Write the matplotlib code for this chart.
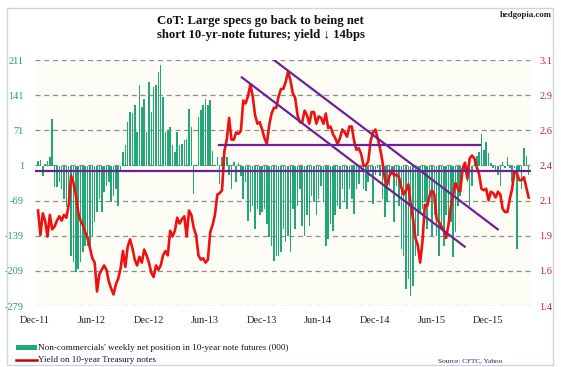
import matplotlib
matplotlib.use("Agg")
import matplotlib.pyplot as plt
from matplotlib.patches import Rectangle
from matplotlib.lines import Line2D
import numpy as np

# ---------------- data (weekly) ----------------
net_positions = [
    9, 12, -20, 3, 10, 18, 93, -42, -42, -32,
    -45, -65, -82, -58, -179, -192, -212, -205, -192, -172,
    -159, -159, -165, -139, -112, -92, -65, -92, -52, -39,
    -32, -72, -59, -45, -79, -12, 28, 41, 88, 108,
    105, 121, 68, 161, 118, 134, 68, 168, 108, 158,
    161, 188, 201, 138, 68, 71, 78, 41, 28, 68,
    41, 44, 51, 54, 114, 78, -56, 2, 98, 111,
    121, 134, 121, 131, 30, 2, 18, -35, 18, 20,
    18, -19, -45, 8, -32, 5, -20, -65, -32, -109,
    -92, -79, -125, -85, -98, -92, -85, -115, -142, -159,
    -189, -179, -179, -172, -125, -152, -139, -172, -85, -125,
    -79, -45, -119, -139, -98, -119, -59, -72, -98, -65,
    -39, -72, -159, -145, -115, -129, -98, -79, -85, -45,
    -69, -85, -45, -65, -95, -45, -35, -5, -45, -49,
    -32, -10, -75, -19, -5, -20, -65, -102, -72, -39,
    -19, -112, -39, -79, -165, -179, -245, -225, -259, -239,
    -179, -140, -92, -85, -72, -125, -59, -139, -98, -139,
    -179, -125, -159, -98, -125, -112, -182, -132, -79, -59,
    -5, -12, -32, -79, -39, 10, 20, 28, 64, 31,
    48, 25, 5, -5, -10, -19, -39, 8, -5, 18,
    -5, -32, -5, -165, -10, -45, 35, 20, -19,
]

yield_10y = [
    2.06, 1.89, 2.04, 1.99, 1.88, 2.03, 1.93, 1.95, 1.99, 2.02,
    1.99, 2.03, 2.01, 2.10, 2.30, 2.25, 2.17, 2.05, 1.99, 1.96,
    1.91, 1.87, 1.80, 1.73, 1.70, 1.50, 1.62, 1.65, 1.68, 1.65,
    1.57, 1.52, 1.48, 1.55, 1.59, 1.66, 1.78, 1.67, 1.81, 1.86,
    1.80, 1.72, 1.68, 1.74, 1.70, 1.79, 1.75, 1.70, 1.63, 1.60,
    1.68, 1.65, 1.68, 1.75, 1.78, 1.75, 1.92, 1.88, 1.92, 2.01,
    1.97, 2.00, 2.02, 1.88, 2.06, 2.03, 1.94, 1.89, 1.75, 1.72,
    1.73, 1.70, 1.72, 1.91, 1.96, 2.03, 2.17, 2.18, 2.20, 2.47,
    2.55, 2.70, 2.55, 2.55, 2.60, 2.59, 2.61, 2.82, 2.80, 2.85,
    2.93, 2.85, 2.72, 2.66, 2.67, 2.62, 2.56, 2.52, 2.65, 2.73,
    2.77, 2.77, 2.85, 2.90, 2.90, 2.95, 3.02, 2.96, 2.87, 2.84,
    2.72, 2.67, 2.67, 2.75, 2.72, 2.66, 2.74, 2.74, 2.66, 2.71,
    2.70, 2.66, 2.73, 2.63, 2.64, 2.59, 2.56, 2.52, 2.56, 2.62,
    2.60, 2.57, 2.64, 2.64, 2.54, 2.48, 2.49, 2.45, 2.37, 2.37,
    2.40, 2.54, 2.60, 2.62, 2.56, 2.49, 2.40, 2.28, 2.24, 2.30,
    2.34, 2.30, 2.31, 2.29, 2.22, 2.17, 2.20, 2.24, 2.10, 2.00,
    1.87, 1.82, 1.70, 1.85, 2.10, 2.09, 2.16, 2.20, 2.17, 2.00,
    1.98, 1.95, 1.92, 1.87, 1.96, 2.08, 2.17, 2.25, 2.21, 2.19,
    2.35, 2.39, 2.28, 2.42, 2.44, 2.42, 2.36, 2.31, 2.21, 2.20,
    2.21, 2.13, 2.19, 2.18, 2.15, 2.19, 2.17, 2.07, 2.05, 2.05,
    2.14, 2.21, 2.33, 2.32, 2.27, 2.27, 2.29, 2.22, 2.15,
]

x_labels = ['Dec-11', 'Jun-12', 'Dec-12', 'Jun-13', 'Dec-13',
            'Jun-14', 'Dec-14', 'Jun-15', 'Dec-15']
left_ticks = [-279, -209, -139, -69, 1, 71, 141, 211]
right_range = [1.4, 3.1]

# trend lines drawn on the yield, in (week, yield) pairs
support_level = 2.33
resistance_segment = [(76.7, 2.51), (187.4, 2.51)]
channel_upper = [(100.0, 3.10), (194.9, 1.93)]
channel_lower = [(86.4, 2.98), (180.9, 1.81)]

title = "CoT: Large specs go back to being net\nshort 10-yr-note futures; yield \u2193 14bps"
legend_bars = "Non-commercials' weekly net position in 10-year note futures (000)"
legend_line = "Yield on 10-year Treasury notes"

# ---------------- styling ----------------
W, H = 561, 367
SERIF = ['Liberation Serif', 'DejaVu Serif']
GREEN = '#22a877'
RED = '#ee1111'
PURPLE = '#6e2196'
GREEN_TXT = '#2a9a6c'
RED_TXT = '#cc2233'

def fx(px):
    return px / W

def fy(py):
    return 1 - py / H

fig = plt.figure(figsize=(W / 100, H / 100), dpi=100)
fig.patch.set_facecolor('white')

# outer frame
fig.add_artist(Rectangle((fx(7), fy(365)), fx(553) - fx(7), fy(8) - fy(365),
                         transform=fig.transFigure, fill=False,
                         edgecolor='#c9d6e4', linewidth=1.0))

ax = fig.add_axes([fx(35), fy(306), fx(531) - fx(35), fy(60) - fy(306)])
ax.set_facecolor('#fdfdf5')
n = len(net_positions)
weeks = np.arange(n)

ax.bar(weeks, net_positions, width=0.65, color=GREEN, zorder=2, linewidth=0)
ax.set_ylim(left_ticks[0], left_ticks[-1])
ax.set_xlim(-1.3, 209)
ax.set_yticks(left_ticks)
ax.set_yticklabels([str(t) for t in left_ticks])
ax.yaxis.grid(True, linestyle=(0, (4, 3)), color='#8c8c8c', linewidth=0.9, zorder=0)
ax.set_axisbelow(True)
ax.tick_params(axis='y', length=0, pad=8, labelsize=7.5, labelcolor=GREEN_TXT)
for lbl in ax.get_yticklabels():
    lbl.set_family(SERIF)
ax.set_xticks([24 * j - 1.2 for j in range(len(x_labels))])
ax.set_xticklabels(x_labels)
ax.tick_params(axis='x', length=0, pad=7, labelsize=7.5, labelcolor='#222233')
for lbl in ax.get_xticklabels():
    lbl.set_family(SERIF)
for s in ax.spines.values():
    s.set_visible(False)

ax2 = ax.twinx()
ax2.set_ylim(*right_range)
rt = np.linspace(right_range[0], right_range[1], len(left_ticks))
ax2.set_yticks(rt)
ax2.set_yticklabels([f"{v:.1f}" for v in rt])
ax2.tick_params(axis='y', length=0, pad=6, labelsize=7.5, labelcolor=RED_TXT)
for lbl in ax2.get_yticklabels():
    lbl.set_family(SERIF)
for s in ax2.spines.values():
    s.set_visible(False)

ax2.plot(weeks, yield_10y, color=RED, linewidth=1.9, zorder=3, solid_joinstyle='round')
ax2.axhline(support_level, color=PURPLE, linewidth=1.6, zorder=4)
for seg in (resistance_segment, channel_upper, channel_lower):
    xs = [p[0] for p in seg]
    ys = [p[1] for p in seg]
    ax2.plot(xs, ys, color=PURPLE, linewidth=1.6, zorder=4)

# title and branding
fig.text(fx(260.5), fy(28), title, ha='center', va='center', fontsize=9.2,
         fontweight='bold', family=SERIF, linespacing=1.25, color='#111111')
fig.text(fx(552), fy(15), 'hedgopia.com', ha='right', va='center', fontsize=6.3,
         fontweight='bold', family=SERIF, color='#222222')

# legend (drawn manually)
fig.add_artist(Rectangle((fx(16), fy(349.5)), fx(37) - fx(16), fy(345) - fy(349.5),
                         transform=fig.transFigure, facecolor=GREEN, edgecolor='none'))
fig.add_artist(Line2D([fx(16), fx(37)], [fy(360), fy(360)], transform=fig.transFigure,
                      color='#cc0000', linewidth=1.8))
fig.text(fx(38.5), fy(347.5), legend_bars, ha='left', va='center', fontsize=6.6,
         family=SERIF, color='#111122')
fig.text(fx(38.5), fy(360), legend_line, ha='left', va='center', fontsize=6.6,
         family=SERIF, color='#111122')
fig.text(fx(502), fy(360.5), 'Source: CFTC, Yahoo', ha='right', va='center', fontsize=5.2,
         family=SERIF, color='#222233')

fig.savefig('out.png', dpi=100, facecolor='white')
